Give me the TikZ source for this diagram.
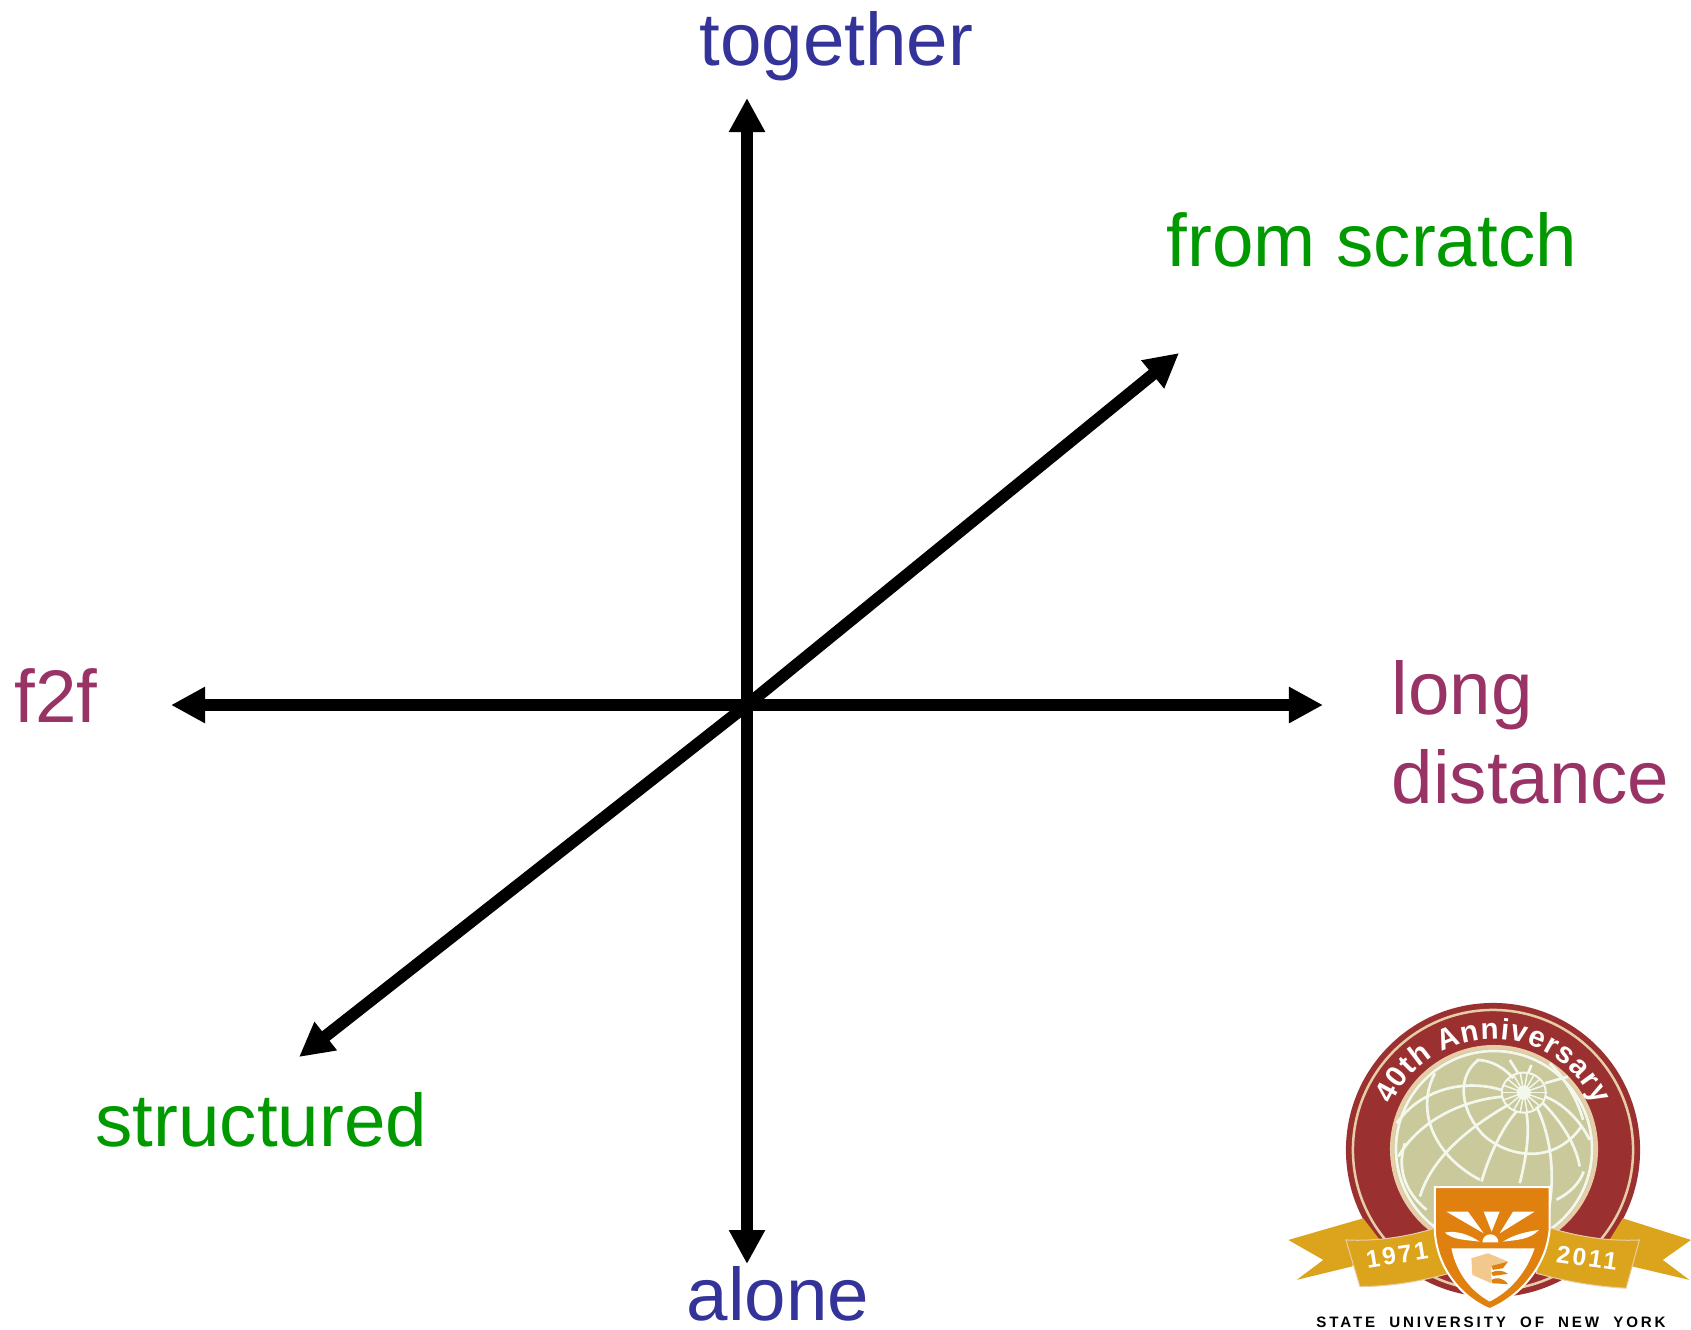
\documentclass[tikz,border=0pt]{standalone}
\usepackage{fontspec}
\setmainfont{Liberation Sans}
\newfontfamily\sealfont{Liberation Sans Bold}
\newfontfamily\namefont[LetterSpace=19, WordSpace=2]{Liberation Sans Bold}
\newfontfamily\yearfont[LetterSpace=10]{Liberation Sans Bold}
\usetikzlibrary{arrows.meta, decorations.text}
\definecolor{axisblue}{HTML}{333399}
\definecolor{axisplum}{HTML}{993366}
\definecolor{axisgreen}{HTML}{009900}
\definecolor{sealred}{HTML}{9B3030}
\definecolor{sealcream}{HTML}{E6CDA8}
\definecolor{sealglobe}{HTML}{C9C99C}
\definecolor{sealgrid}{HTML}{F4F8EC}
\definecolor{sealorange}{HTML}{E0800F}
\definecolor{sealgold}{HTML}{DCA41C}
\definecolor{sealtan}{HTML}{F3C88C}
\tikzset{
    axisline/.style={line width=0.12cm, -{Triangle[length=0.34cm, width=0.34cm]}},
    axislabel/.style={font=\fontsize{21.2}{25.3}\selectfont, anchor=base west, inner sep=0pt},
    gridline/.style={sealgrid, line width=0.027cm},
    yearlabel/.style={white, font=\yearfont\fontsize{7}{8}\selectfont, inner sep=0pt}
}

\begin{document}
\begin{tikzpicture}[x=0.01cm, y=-0.01cm]
    \useasboundingbox (0,0) rectangle (1691,1329);

    % Draw axis ends
    \coordinate (c) at (747,705);
    \coordinate (t) at (747,98);
    \coordinate (b) at (747,1264);
    \coordinate (l) at (171,705);
    \coordinate (r) at (1323,705);
    \coordinate (ne) at (1179,353);
    \coordinate (sw) at (299,1057);

    % Draw connections
    \draw[axisline] (c) -- (t);
    \draw[axisline] (c) -- (b);
    \draw[axisline] (c) -- (l);
    \draw[axisline] (c) -- (r);
    \draw[axisline] (c) -- (ne);
    \draw[axisline] (c) -- (sw);

    % Labels
    \node[axislabel, text=axisblue] (together) at (699,65) {together};
    \node[axislabel, text=axisblue] (alone) at (686,1320) {alone};
    \node[axislabel, text=axisplum] (f2f) at (14,722) {f2f};
    \node[axislabel, text=axisplum] (long) at (1391,714) {long};
    \node[axislabel, text=axisplum] (distance) at (1391,803) {distance};
    \node[axislabel, text=axisgreen] (scratch) at (1166,266) {from scratch};
    \node[axislabel, text=axisgreen] (structured) at (95,1146) {structured};

    % Seal: ring and globe
    \fill[sealred] (1493,1150) circle[radius=1.47cm];
    \draw[sealcream, line width=0.025cm] (1493,1150) circle[radius=1.40cm];
    \fill[sealcream] (1494,1149) circle[radius=1.04cm];
    \fill[sealglobe] (1494,1149) circle[radius=1.00cm];
    \draw[gridline] (1494,1149) circle[radius=0.98cm];

    % Seal: grid of the globe
    \begin{scope}[shift={(1380,1040)}, x=0.00333cm, y=-0.00333cm]
        \foreach \spoke in {0,20,...,340}
            \draw[sealgrid, line width=0.015cm] (432,158) -- ++(\spoke:0.21cm);
        \fill[sealgrid] (432,158) circle[radius=0.07cm];
        \draw[gridline, line width=0.02cm] (432,158) ellipse[x radius=0.22cm, y radius=0.2cm];
        \draw[gridline] (440,220) .. controls (450,280) and (440,350) .. (420,430);
        \draw[gridline] (410,215) .. controls (370,260) and (330,340) .. (305,425);
        \draw[gridline] (385,195) .. controls (290,250) and (160,340) .. (120,470);
        \draw[gridline] (370,170) .. controls (250,180) and (120,240) .. (55,350);
        \draw[gridline] (365,150) .. controls (250,115) and (120,150) .. (50,250);
        \draw[gridline] (415,100) -- (390,60);
        \draw[gridline] (445,100) -- (455,75);
        \draw[gridline] (470,200) .. controls (510,280) and (530,400) .. (505,520);
        \draw[gridline] (490,190) .. controls (550,250) and (590,320) .. (600,380);
        \draw[gridline] (495,170) .. controls (550,190) and (600,240) .. (630,300);
        \draw[gridline] (495,130) -- (565,110);
        \draw[gridline] (295,60) .. controls (230,110) and (240,210) .. (310,285) .. controls (380,350) and (520,380) .. (605,260);
        \draw[gridline] (165,100) .. controls (110,200) and (150,340) .. (300,420);
        \draw[gridline] (75,310) .. controls (45,400) and (90,470) .. (140,510);
        \draw[gridline] (290,60) .. controls (340,60) and (380,90) .. (400,115);
        \draw[gridline] (510,70) .. controls (570,130) and (600,200) .. (610,240);
        \draw[gridline] (530,480) .. controls (570,460) and (600,430) .. (612,395);
    \end{scope}

    % Seal: text on the ring
    \path[decorate, decoration={text along path, text color=white, text align={fit to path},
        text={|\sealfont\fontsize{8.4}{10}\selectfont|40th Anniversary}}]
        (1391.6,1104.9) arc[start angle=156, end angle=24, radius=1.11cm];

    % Seal: ribbon and shield
    \begin{scope}[shift={(1280,1190)}, x=0.00333cm, y=-0.00333cm]
        \fill[sealgold] (25,150) -- (250,85) -- (300,150) -- (215,230) -- (50,270) -- (130,210) -- cycle;
        \fill[sealgold] (1235,150) -- (1030,85) -- (990,150) -- (1060,230) -- (1230,270) -- (1150,210) -- cycle;
        \draw[sealcream, fill=sealgold, line width=0.01cm] (198,150) .. controls (290,155) and (390,140) .. (480,110)
            -- (510,250) .. controls (420,275) and (330,290) .. (240,290) -- cycle;
        \draw[sealcream, fill=sealgold, line width=0.01cm] (800,110) .. controls (890,140) and (990,155) .. (1080,150)
            -- (1040,295) .. controls (950,290) and (860,275) .. (770,250) -- cycle;
        \draw[white, fill=sealorange, line width=0.02cm] (465,-9) -- (810,-9) -- (810,120)
            .. controls (800,230) and (720,320) .. (630,358) .. controls (540,320) and (470,230) .. (465,120) -- cycle;
        \fill[white] (515,175) -- (765,175) .. controls (740,250) and (690,305) .. (630,335) .. controls (575,305) and (530,250) .. cycle;
        % Rays of the sun
        \fill[white] (500,65) -- (565,65) -- (612,130) -- cycle;
        \fill[white] (612,65) -- (660,65) -- (636,125) -- cycle;
        \fill[white] (700,65) -- (765,65) -- (660,130) -- cycle;
        \fill[white] (495,128) .. controls (530,120) and (570,135) .. (600,155) .. controls (560,150) and (520,150) .. cycle;
        \fill[white] (778,120) .. controls (740,125) and (700,135) .. (670,155) .. controls (710,150) and (750,150) .. cycle;
        \fill[white] (608,157) arc[start angle=180, end angle=0, radius=0.08cm] -- cycle;
        % Book
        \fill[sealtan] (575,205) -- (625,190) -- (685,215) -- (635,228) -- (635,280) -- (578,255) -- cycle;
        \fill[sealorange] (635,228) -- (685,215) -- (670,235) -- (640,240) -- cycle;
        \fill[sealorange] (635,248) .. controls (650,240) and (670,240) .. (685,252) -- (640,258) -- cycle;
        \fill[sealorange] (635,270) .. controls (650,262) and (670,262) .. (685,283) -- (638,280) -- cycle;
    \end{scope}

    % Seal: years and name
    \node[yearlabel, rotate=9] (start) at (1397,1255) {1971};
    \node[yearlabel, rotate=-8] (end) at (1587,1258) {2011};
    \node[anchor=base, inner sep=0pt, font=\namefont\fontsize{4.3}{5}\selectfont] (suny) at (1491,1327) {STATE UNIVERSITY OF NEW YORK};
\end{tikzpicture}
\end{document}
